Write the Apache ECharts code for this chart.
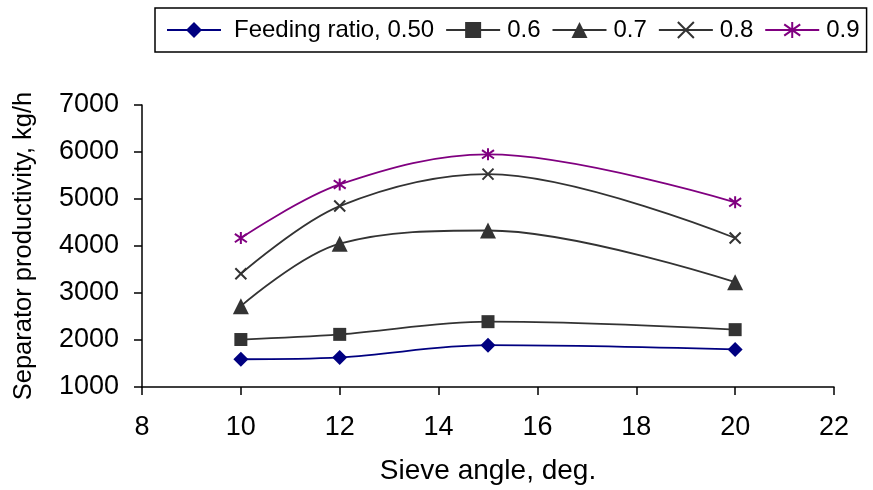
<!DOCTYPE html>
<html><head><meta charset="utf-8">
<script src="https://cdn.jsdelivr.net/npm/echarts@6/dist/echarts.min.js"></script>
<style>html,body{margin:0;padding:0;background:#fff}#c{width:873px;height:490px}</style>
</head><body><div id="c"></div>
<script>
const angles = [10, 12, 15, 20];
const seriesNames = ['Feeding ratio, 0.50', '0.6', '0.7', '0.8', '0.9'];
const r050 = [1590, 1630, 1890, 1800];
const r06 = [2010, 2120, 2390, 2220];
const r07 = [2720, 4050, 4330, 3230];
const r08 = [3410, 4850, 5530, 4170];
const r09 = [4170, 5310, 5950, 4930];
const xTicks = [8, 10, 12, 14, 16, 18, 20, 22];
const yTicks = [1000, 2000, 3000, 4000, 5000, 6000, 7000];

const font = 'Liberation Sans, Arial, sans-serif';
const crossPath = 'path://M0,0L10,10M10,0L0,10';
const starPath = 'path://M5,0L5,10M0,1.5L10,8.5M0,8.5L10,1.5';

function mk(name, data, color, symbol, size, stroke) {
  return {
    name, type: 'line', smooth: 0.35,
    data: angles.map((a, i) => [a, data[i]]),
    symbol, symbolSize: size, showAllSymbol: true,
    lineStyle: {color, width: 1.8},
    itemStyle: stroke ? {color: 'transparent', borderColor: color, borderWidth: 2} : {color, borderColor: color, borderWidth: 0},
    color
  };
}

const chart = echarts.init(document.getElementById('c'), null, {renderer: 'canvas'});
chart.setOption({
  animation: false,
  textStyle: {fontFamily: font},
  legend: {
    top: 8, left: 155,
    width: 760,
    borderColor: '#000', borderWidth: 1.5, borderRadius: 0,
    padding: [10, 7, 10, 11],
    itemWidth: 54, itemHeight: 20, itemGap: 11,
    textStyle: {fontSize: 24, color: '#000', fontFamily: font, padding: [0, 0, 0, 2]},
    data: seriesNames.map((n, i) => i === 0 ? {name: n, textStyle: {padding: [0, 0, 0, 8]}} : {name: n})
  },
  grid: {left: 142, right: 39, top: 105, bottom: 101, containLabel: false},
  xAxis: {
    type: 'value', min: 8, max: 22, interval: 2,
    name: 'Sieve angle, deg.', nameLocation: 'middle', nameGap: 70,
    nameTextStyle: {fontSize: 28, color: '#000', fontFamily: font},
    axisLine: {onZero: false, lineStyle: {color: '#000', width: 1.5}},
    axisTick: {show: true, length: 8, lineStyle: {color: '#000', width: 1.5}},
    axisLabel: {fontSize: 27, color: '#000', margin: 27, fontFamily: font},
    splitLine: {show: false}
  },
  yAxis: {
    type: 'value', min: 1000, max: 7000, interval: 1000,
    name: 'Separator productivity, kg/h', nameLocation: 'middle', nameGap: 105,
    nameTextStyle: {fontSize: 25.5, color: '#000', fontFamily: font},
    axisLine: {show: true, onZero: false, lineStyle: {color: '#000', width: 1.5}},
    axisTick: {show: true, length: 8, lineStyle: {color: '#000', width: 1.5}},
    axisLabel: {fontSize: 27, color: '#000', margin: 23, fontFamily: font, formatter: v => String(v)},
    splitLine: {show: false}
  },
  series: [
    mk(seriesNames[0], r050, '#000080', 'diamond', 15, false),
    mk(seriesNames[1], r06, '#333333', 'rect', 13, false),
    mk(seriesNames[2], r07, '#333333', 'triangle', 16, false),
    mk(seriesNames[3], r08, '#333333', crossPath, 11, true),
    mk(seriesNames[4], r09, '#800080', starPath, 12, true)
  ]
});
</script></body></html>
